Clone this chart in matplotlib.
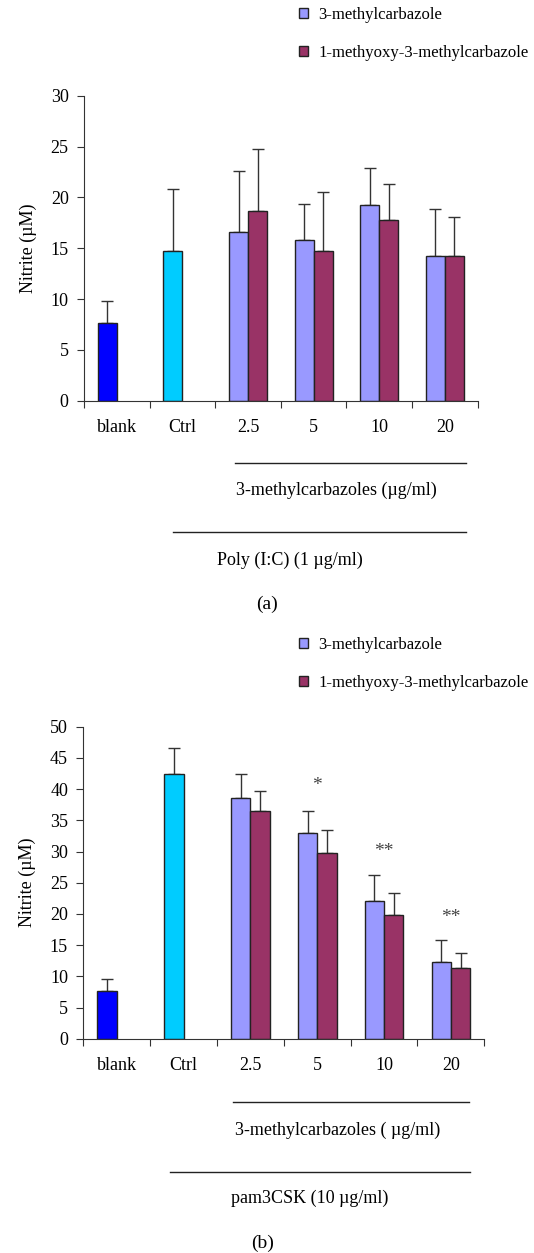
import numpy as np
import matplotlib
matplotlib.use("Agg")
import matplotlib.pyplot as plt
from matplotlib.transforms import blended_transform_factory
from matplotlib.lines import Line2D
from matplotlib.patches import Patch

plt.rcParams['font.family'] = ['Liberation Serif', 'DejaVu Serif']
plt.rcParams['font.size'] = 13

# data
categories = ['blank', 'Ctrl', '2.5', '5', '10', '20']
doses = ['2.5', '5', '10', '20']
series_names = ['3-methylcarbazole', '1-methyoxy-3-methylcarbazole']

# (a) Poly (I:C)
a_blank, a_blank_sd = 7.6, 2.2
a_ctrl, a_ctrl_sd = 14.7, 6.1
a_mc = [16.6, 15.8, 19.2, 14.2]
a_mc_sd = [6.0, 3.5, 3.7, 4.7]
a_mmc = [18.7, 14.7, 17.8, 14.2]
a_mmc_sd = [6.1, 5.8, 3.5, 3.9]

# (b) pam3CSK
b_blank, b_blank_sd = 7.6, 2.0
b_ctrl, b_ctrl_sd = 42.5, 4.1
b_mc = [38.5, 33.0, 22.0, 12.3]
b_mc_sd = [4.0, 3.5, 4.2, 3.5]
b_mmc = [36.5, 29.7, 19.8, 11.3]
b_mmc_sd = [3.2, 3.7, 3.5, 2.4]
b_stars = ['', '*', '**', '**']
b_star_y = [0, 40.5, 30.0, 19.5]

C_BLANK = '#0000FF'
C_CTRL = '#00CCFF'
C_MC = '#9999FF'
C_MMC = '#993366'

W = 1253
H_PX = 534


def fy(px):
    return 1 - px / W


def panel(fig, rect, blank, blank_sd, ctrl, ctrl_sd, mc, mc_sd, mmc, mmc_sd,
          ymax, ystep, lines_px, texts, letter):
    ax = fig.add_axes(rect)
    w = 0.29
    centers = np.arange(6) + 0.5
    bar_kw = dict(width=w, edgecolor='#222222', linewidth=1.0, zorder=2)
    ax.bar(centers[0] - w / 2, blank, color=C_BLANK, **bar_kw)
    ax.bar(centers[1] - w / 2, ctrl, color=C_CTRL, **bar_kw)
    ax.bar(centers[2:] - w / 2, mc, color=C_MC, **bar_kw)
    ax.bar(centers[2:] + w / 2, mmc, color=C_MMC, **bar_kw)

    xs = np.concatenate([[centers[0] - w / 2, centers[1] - w / 2],
                         centers[2:] - w / 2, centers[2:] + w / 2])
    ys = np.concatenate([[blank, ctrl], mc, mmc])
    es = np.concatenate([[blank_sd, ctrl_sd], mc_sd, mmc_sd])
    ax.errorbar(xs, ys, yerr=[np.zeros_like(es), es], fmt='none',
                ecolor='#333333', elinewidth=1.0, capsize=4, capthick=1.0, zorder=1)

    ax.set_xlim(0, 6)
    ax.set_ylim(0, ymax)
    ax.set_yticks(np.arange(0, ymax + 1, ystep))
    ax.set_xticks(np.arange(7))
    ax.set_xticklabels([])
    ax.set_xticks(centers, minor=True)
    ax.set_xticklabels(categories, minor=True)
    ax.tick_params(axis='x', which='minor', length=0, pad=13)
    ax.tick_params(axis='x', which='major', length=5, direction='out', color='#333333')
    ax.tick_params(axis='y', length=5, direction='out', pad=6, color='#333333')
    for s in ['top', 'right']:
        ax.spines[s].set_visible(False)
    for s in ['left', 'bottom']:
        ax.spines[s].set_color('#333333')
    ax.set_ylabel('Nitrite (µM)', labelpad=10)

    tr = blended_transform_factory(ax.transData, fig.transFigure)
    for x0, x1, ypx in lines_px:
        ax.add_line(Line2D([x0, x1], [fy(ypx), fy(ypx)], transform=tr,
                           color='#222222', lw=1.0, clip_on=False))
    for xd, ypx, s in texts:
        ax.text(xd, fy(ypx), s, transform=tr, ha='center', va='center',
                clip_on=False)
    fig.text(letter[0] / H_PX, fy(letter[1]), letter[2], ha='center', va='center',
             fontsize=14)
    return ax


fig = plt.figure(figsize=(5.34, 12.53), dpi=100)

ax1 = panel(fig, [84 / 534, fy(400.7), (477.7 - 84) / 534, (400.7 - 95.7) / W],
            a_blank, a_blank_sd, a_ctrl, a_ctrl_sd, a_mc, a_mc_sd, a_mmc, a_mmc_sd,
            30, 5,
            [(2.30, 5.82, 463.3), (1.36, 5.82, 531.7)],
            [(3.85, 490, '3-methylcarbazoles (µg/ml)'),
             (3.13, 560, 'Poly (I:C) (1 µg/ml)')],
            (267, 604, '(a)'))

ax2 = panel(fig, [83.3 / 534, fy(1038.7), (484.3 - 83.3) / 534, (1038.7 - 726.7) / W],
            b_blank, b_blank_sd, b_ctrl, b_ctrl_sd, b_mc, b_mc_sd, b_mmc, b_mmc_sd,
            50, 5,
            [(2.24, 5.77, 1101.7), (1.30, 5.78, 1172)],
            [(3.80, 1130, '3-methylcarbazoles ( µg/ml)'),
             (3.38, 1198, 'pam3CSK (10 µg/ml)')],
            (263, 1243, '(b)'))

for i, s in enumerate(b_stars):
    if s:
        ax2.text(i + 2.5, b_star_y[i], s, ha='center', va='center',
                 fontsize=14, color='#444444')

handles = [Patch(facecolor=C_MC, edgecolor='#222222', lw=1.0),
           Patch(facecolor=C_MMC, edgecolor='#222222', lw=1.0)]
for top in (7, 637):
    fig.legend(handles, series_names, loc='upper left',
               bbox_to_anchor=(299 / 534, fy(top)), frameon=False, fontsize=12,
               handlelength=0.55, handleheight=0.55, handletextpad=0.6,
               labelspacing=1.3, borderpad=0, borderaxespad=0)

fig.savefig('out.png', dpi=100)
